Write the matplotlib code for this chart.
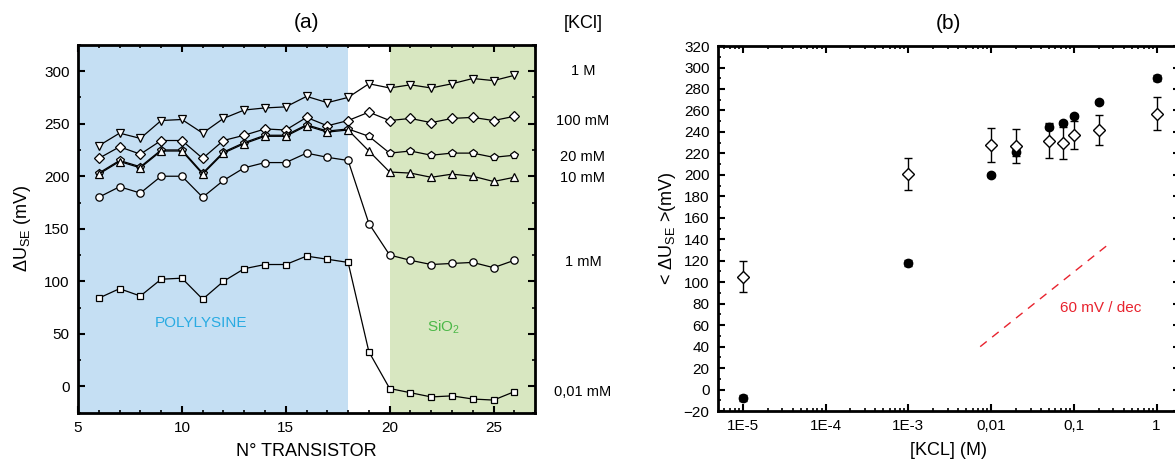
import matplotlib
matplotlib.use('Agg')
import matplotlib.pyplot as plt
import numpy as np
from matplotlib.ticker import MultipleLocator, FixedLocator, FixedFormatter, LogLocator, NullFormatter

plt.rcParams['font.family'] = ['Liberation Sans', 'DejaVu Sans']
plt.rcParams['mathtext.fontset'] = 'custom'
plt.rcParams['mathtext.rm'] = 'Liberation Sans'
plt.rcParams['mathtext.it'] = 'Liberation Sans:italic'
plt.rcParams['mathtext.default'] = 'rm'

# panel (a) : transistors
transistor = [6, 7, 8, 9, 10, 11, 12, 13, 14, 15, 16, 17, 18, 19, 20, 21, 22, 23, 24, 25, 26]
u_1M = [229, 241, 236, 253, 254, 241, 255, 263, 265, 266, 276, 270, 275, 288, 284, 287, 284, 288, 293, 291, 296]
u_100mM = [217, 228, 221, 234, 234, 217, 234, 239, 245, 244, 256, 248, 253, 261, 253, 255, 251, 255, 256, 253, 257]
u_20mM = [203, 215, 209, 225, 225, 203, 223, 232, 239, 239, 249, 243, 245, 238, 222, 224, 220, 222, 222, 218, 220]
u_10mM = [202, 214, 208, 224, 224, 202, 222, 231, 238, 238, 248, 242, 244, 224, 204, 203, 199, 202, 200, 195, 199]
u_1mM = [180, 190, 184, 200, 200, 180, 196, 208, 213, 213, 222, 218, 215, 155, 125, 120, 116, 117, 118, 113, 120]
u_001mM = [84, 93, 86, 102, 103, 83, 100, 112, 116, 116, 124, 121, 118, 33, -2, -6, -10, -9, -12, -13, -5]
series_a = [u_1M, u_100mM, u_20mM, u_10mM, u_1mM, u_001mM]
markers_a = ['v', 'D', 'p', '^', 'o', 's']
labels_a = ['1 M', '100 mM', '20 mM', '10 mM', '1 mM', '0,01 mM']
label_y = [300, 253, 218, 198, 118, -5]

# panel (b) : mean response vs concentration
kcl_open = [1e-5, 1e-3, 0.01, 0.02, 0.05, 0.075, 0.1, 0.2, 1]
u_open = [105, 201, 228, 227, 232, 230, 237, 242, 257]
err_open = [14.5, 15, 16, 16, 16, 15, 13, 14, 15.5]
kcl_fill = [1e-5, 1e-3, 0.01, 0.02, 0.05, 0.075, 0.1, 0.2, 1]
u_fill = [-8, 118, 200, 221, 245, 248, 255, 268, 290]
err_fill = [3, 3, 2, 3, 2, 2, 2, 2, 3]
slope_x = [0.0074, 0.28]
slope_y = [40, 137]
xtick_pos = [1e-5, 1e-4, 1e-3, 1e-2, 1e-1, 1]
xtick_lab = ['1E-5', '1E-4', '1E-3', '0,01', '0,1', '1']

fig = plt.figure(figsize=(11.75, 4.65), dpi=100)
ax1 = fig.add_axes([0.0664, 0.1125, 0.389, 0.791])
ax2 = fig.add_axes([0.611, 0.116, 0.393, 0.785])

# ---- (a)
ax1.axvspan(5, 18, color='#c5dff3', lw=0, zorder=0)
ax1.axvspan(20, 27, color='#d8e7c1', lw=0, zorder=0)
sizes = {'v': 6, 'D': 5, 'p': 5.5, '^': 6, 'o': 5.3, 's': 5}
for vals, m in zip(series_a, markers_a):
    ax1.plot(transistor, vals, '-', color='black', lw=0.9, marker=m, ms=sizes[m],
             mfc='white', mec='black', mew=0.9, zorder=3)
ax1.set_xlim(5, 27)
ax1.set_ylim(-25, 325)
ax1.xaxis.set_major_locator(MultipleLocator(5))
ax1.xaxis.set_minor_locator(MultipleLocator(1))
ax1.yaxis.set_major_locator(MultipleLocator(50))
ax1.yaxis.set_minor_locator(MultipleLocator(25))
ax1.set_xlabel('N° TRANSISTOR', fontsize=13, labelpad=6)
ax1.set_ylabel('ΔU$_{SE}$ (mV)', fontsize=13, labelpad=8)
ax1.set_title('(a)', fontsize=15, pad=12)
ax1.text(10.9, 60, 'POLYLYSINE', color='#29abe2', fontsize=11, ha='center', va='center')
ax1.text(22.6, 56, 'SiO$_2$', color='#4cb848', fontsize=11, ha='center', va='center')
ax1.text(29.3, 345, '[KCl]', fontsize=13, ha='center', va='center', clip_on=False)
for lab, yy in zip(labels_a, label_y):
    ax1.text(29.3, yy, lab, fontsize=10.5, ha='center', va='center', clip_on=False)

# ---- (b)
ax2.errorbar(kcl_fill, u_fill, yerr=err_fill, fmt='o', color='black', ms=6,
             ecolor='black', elinewidth=1, capsize=3, zorder=3)
ax2.errorbar(kcl_open, u_open, yerr=err_open, fmt='D', ms=6, mfc='white', mec='black',
             mew=1, ecolor='black', elinewidth=1, capsize=3, zorder=4)
ax2.plot(slope_x, slope_y, '--', color='#e8232e', lw=1, dashes=(6, 5))
ax2.text(0.213, 76, '60 mV / dec', color='#e8232e', fontsize=11, ha='center', va='center')
ax2.set_xscale('log')
ax2.set_xlim(10 ** -5.3, 10 ** 0.28)
ax2.set_ylim(-20, 320)
ax2.xaxis.set_major_locator(FixedLocator(xtick_pos))
ax2.xaxis.set_major_formatter(FixedFormatter(xtick_lab))
ax2.xaxis.set_minor_locator(LogLocator(base=10, subs=np.arange(2, 10), numticks=20))
ax2.xaxis.set_minor_formatter(NullFormatter())
ax2.yaxis.set_major_locator(MultipleLocator(20))
ax2.yaxis.set_minor_locator(MultipleLocator(10))
ax2.set_xlabel('[KCL] (M)', fontsize=13, labelpad=6)
ax2.set_ylabel('< ΔU$_{SE}$ >(mV)', fontsize=13, labelpad=4)
ax2.set_title('(b)', fontsize=15, pad=12)

for ax in (ax1, ax2):
    for sp in ax.spines.values():
        sp.set_linewidth(2)
    ax.tick_params(which='major', direction='in', top=True, right=True, length=5, width=1.5,
                   labelsize=11, pad=6)
    ax.tick_params(which='minor', direction='in', top=True, right=True, length=2.5, width=1.2)

fig.savefig('out.png', dpi=100)
